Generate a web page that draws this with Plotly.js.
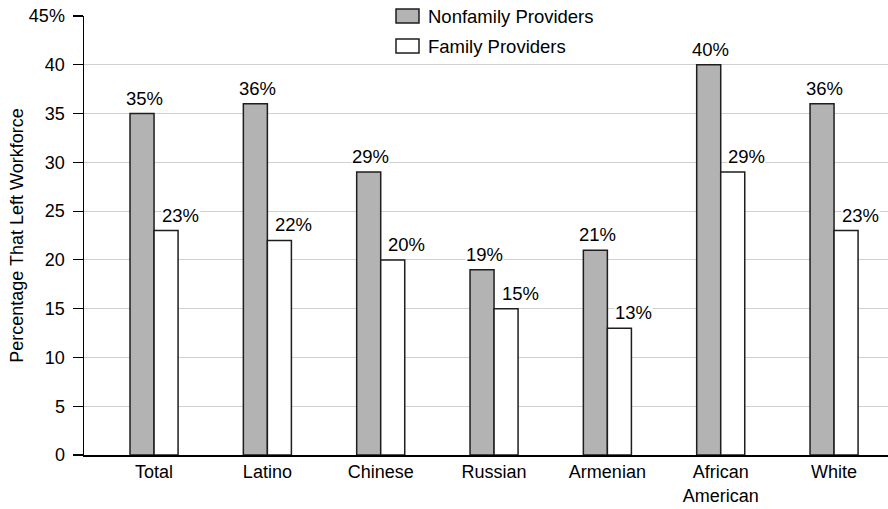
<!DOCTYPE html>
<html>
<head>
<meta charset="utf-8">
<script src="https://cdn.plot.ly/plotly-3.0.1.min.js"></script>
<style>
  html, body { margin: 0; padding: 0; background: #ffffff; }
  #chart { width: 888px; height: 509px; }
</style>
</head>
<body>
<div id="chart"></div>
<script>
// Share of child-care providers who left the workforce, by group
const categories = ['Total', 'Latino', 'Chinese', 'Russian', 'Armenian', 'African<br>American', 'White'];
const seriesNames = ['Nonfamily Providers', 'Family Providers'];
const nonfamilyValues = [35, 36, 29, 19, 21, 40, 36];
const familyValues = [23, 22, 20, 15, 13, 29, 23];
const yTickValues = [0, 5, 10, 15, 20, 25, 30, 35, 40, 45];
const yTickLabels = ['0', '5', '10', '15', '20', '25', '30', '35', '40', '45%'];

const FONT = 'Liberation Sans, Arial, Helvetica, sans-serif';
const GRAY = '#b3b3b3';
const EDGE = '#1e1e1e';

// plot-area geometry in pixels, used to place the hand-drawn legend
const W = 888, H = 509;
const M = { l: 84, r: 0, t: 16, b: 54 };
const plotW = W - M.l - M.r, plotH = H - M.t - M.b;
const px = x => (x - M.l) / plotW;
const py = y => (H - M.b - y) / plotH;

const traces = [
  {
    type: 'bar', name: seriesNames[0], x: categories, y: nonfamilyValues,
    marker: { color: GRAY, line: { color: EDGE, width: 1.5 } },
    hoverinfo: 'x+y'
  },
  {
    type: 'bar', name: seriesNames[1], x: categories, y: familyValues,
    marker: { color: '#ffffff', line: { color: EDGE, width: 1.5 } },
    hoverinfo: 'x+y'
  }
];

// value labels on white boxes so they break the gridlines
const labelFont = { family: FONT, size: 18.5, color: '#000' };
const annotations = [];
categories.forEach((c, i) => {
  annotations.push({
    x: c, y: nonfamilyValues[i], xref: 'x', yref: 'y',
    text: nonfamilyValues[i] + '%', showarrow: false,
    xanchor: 'center', yanchor: 'bottom', xshift: -10, yshift: 4,
    bgcolor: '#ffffff', borderpad: 0, font: labelFont
  });
  annotations.push({
    x: c, y: familyValues[i], xref: 'x', yref: 'y',
    text: familyValues[i] + '%', showarrow: false,
    xanchor: 'center', yanchor: 'bottom', xshift: 26, yshift: 4,
    bgcolor: '#ffffff', borderpad: 0, font: labelFont
  });
});

// legend text
const legendRows = [16, 46];
seriesNames.forEach((name, k) => {
  annotations.push({
    x: px(426), y: py(legendRows[k]), xref: 'paper', yref: 'paper',
    text: name, showarrow: false, xanchor: 'left', yanchor: 'middle',
    font: labelFont
  });
});

const shapes = [
  // legend background breaking the top gridline
  { type: 'rect', xref: 'paper', yref: 'paper', layer: 'above',
    x0: px(387), x1: px(600), y0: py(58), y1: py(2),
    fillcolor: '#ffffff', line: { width: 0 } },
  // legend swatches
  { type: 'rect', xref: 'paper', yref: 'paper', layer: 'above',
    x0: px(396), x1: px(419), y0: py(23), y1: py(9),
    fillcolor: GRAY, line: { color: EDGE, width: 1.5 } },
  { type: 'rect', xref: 'paper', yref: 'paper', layer: 'above',
    x0: px(396), x1: px(419), y0: py(53), y1: py(39),
    fillcolor: '#ffffff', line: { color: EDGE, width: 1.5 } }
];

const layout = {
  width: W, height: H,
  margin: M,
  paper_bgcolor: '#ffffff', plot_bgcolor: '#ffffff',
  font: { family: FONT, size: 18, color: '#000' },
  showlegend: false,
  barmode: 'group',
  bargap: 0.576,
  bargroupgap: 0,
  xaxis: {
    type: 'category',
    range: [-0.618, 6.476],
    showline: true, linecolor: '#000', linewidth: 1.5,
    showgrid: false, ticks: '', zeroline: false,
    tickfont: { family: FONT, size: 18, color: '#000' }
  },
  yaxis: {
    range: [0, 45],
    tickvals: yTickValues, ticktext: yTickLabels,
    ticks: 'outside', ticklen: 10, tickwidth: 1.2, tickcolor: '#000',
    ticklabelstandoff: 4,
    showline: true, linecolor: '#000', linewidth: 1.5,
    showgrid: true, gridcolor: '#d0d0d0', gridwidth: 1,
    zeroline: false,
    tickfont: { family: FONT, size: 18, color: '#000' },
    title: { text: 'Percentage That Left Workforce', font: { family: FONT, size: 18, color: '#000' }, standoff: 0 }
  },
  annotations: annotations,
  shapes: shapes
};

Plotly.newPlot('chart', traces, layout, { displayModeBar: false, staticPlot: true });
</script>
</body>
</html>
